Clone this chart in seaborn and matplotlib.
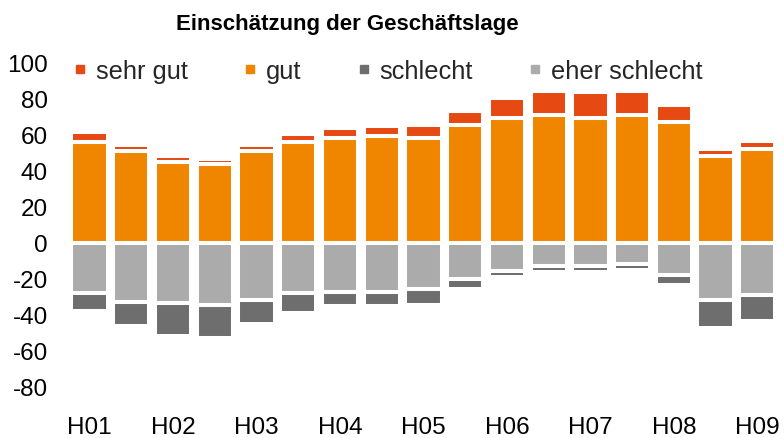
import matplotlib
matplotlib.use("Agg")
import matplotlib.pyplot as plt
import seaborn as sns
import numpy as np
from matplotlib.lines import Line2D

# ---- data (percent of respondents) ----
categories = ["H1 01", "H2 01", "H1 02", "H2 02", "H1 03", "H2 03", "H1 04", "H2 04",
              "H1 05", "H2 05", "H1 06", "H2 06", "H1 07", "H2 07", "H1 08", "H2 08", "H1 09"]
tick_labels = ["H01", "", "H02", "", "H03", "", "H04", "", "H05", "", "H06", "", "H07", "",
               "H08", "", "H09"]
sehr_gut = [5.5, 3.5, 3.5, 2.5, 3.5, 4.5, 5.5, 5.5, 7.0, 8.0, 11.0, 13.5, 14.5, 13.5, 9.0, 3.5, 4.5]
gut = [56.0, 51.0, 45.0, 44.0, 51.0, 56.0, 58.5, 59.5, 58.5, 65.5, 69.5, 71.0, 69.5, 71.0, 67.5, 48.5, 52.0]
eher_schlecht = [28.0, 32.5, 33.5, 34.5, 31.5, 28.0, 27.0, 27.0, 25.5, 20.0, 15.5, 12.5, 12.5, 11.5, 18.0, 31.5, 29.0]
schlecht = [10.0, 13.5, 18.0, 18.0, 13.5, 11.0, 8.0, 8.0, 9.0, 5.5, 3.5, 3.5, 3.5, 3.5, 5.5, 15.5, 14.5]
series_names = ["sehr gut", "gut", "schlecht", "eher schlecht"]
y_ticks = [-80, -60, -40, -20, 0, 20, 40, 60, 80, 100]
title = "Einschätzung der Geschäftslage"

colors = {"sehr gut": "#E64A12", "gut": "#F08600", "schlecht": "#6E6E6E", "eher schlecht": "#ABABAB"}

sns.set_theme(style="white")
plt.rcParams["font.family"] = ["Liberation Sans", "DejaVu Sans"]

fig = plt.figure(figsize=(7.84, 4.39), dpi=100)
ax = fig.add_axes([68.7 / 784, 1 - 388 / 439, (778.2 - 68.7) / 784, (388 - 64) / 439])

g = np.array(gut)
s = np.array(sehr_gut)
es = np.array(eher_schlecht)
sc = np.array(schlecht)

common = dict(ax=ax, width=0.87, saturation=1, edgecolor="white", linewidth=2.9)
sns.barplot(x=categories, y=g, color=colors["gut"], **common)
sns.barplot(x=categories, y=s, bottom=g, color=colors["sehr gut"], **common)
sns.barplot(x=categories, y=-es, color=colors["eher schlecht"], **common)
sns.barplot(x=categories, y=-sc, bottom=-es, color=colors["schlecht"], **common)

ax.set_ylim(-80, 100)
ax.set_xlim(-0.5, len(categories) - 0.5)
ax.set_yticks(y_ticks)
ax.set_yticklabels([str(v) for v in y_ticks], fontsize=17.5, color="black")
ax.set_xticks(range(len(categories)))
ax.set_xticklabels(tick_labels, fontsize=17.5, color="black")
ax.tick_params(axis="y", length=0, pad=15)
ax.tick_params(axis="x", length=0, pad=21)
ax.set_xlabel("")
ax.set_ylabel("")
for sp in ax.spines.values():
    sp.set_visible(False)
ax.grid(False)

fig.text(347 / 784, 1 - 30 / 439, title, ha="center", va="baseline",
         fontsize=16, fontweight="bold", color="black")

handles = [Line2D([0], [0], marker="s", linestyle="none", markersize=5.8,
                  markerfacecolor=colors[n], markeredgecolor=colors[n]) for n in series_names]
leg = fig.legend(handles, series_names, loc="center left", ncol=4, frameon=False,
                 bbox_to_anchor=(76 / 784, 1 - 72 / 439), fontsize=18.3,
                 handlelength=0.32, handletextpad=0.45, columnspacing=2.3,
                 borderpad=0, borderaxespad=0)

fig.savefig("out.png", dpi=100)
